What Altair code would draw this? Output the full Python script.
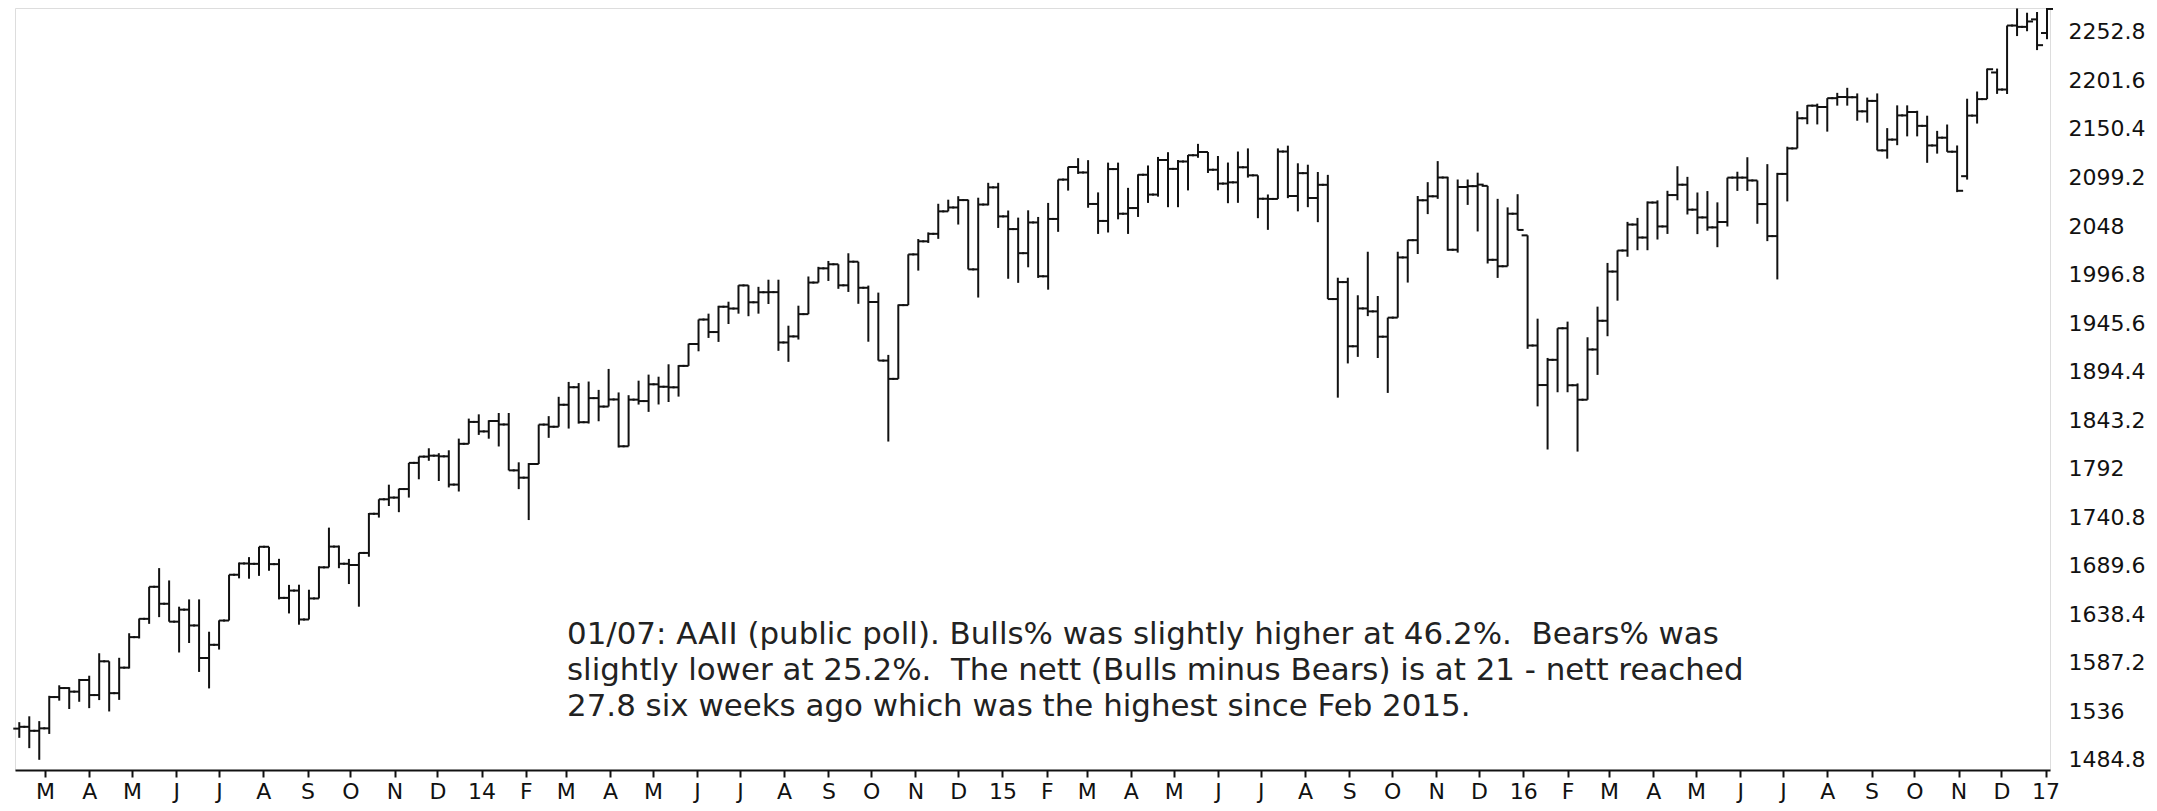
import altair as alt
import pandas as pd

# ---- weekly S&P 500 style OHLC bars (week starting Monday) ----
first_week = "2013-02-11"
n_weeks = 204

opens = [
    1517.9, 1519.8, 1515.6, 1518.2, 1551.2, 1560.7, 1556.9, 1569.2, 1553.3, 1588.9,
    1555.3, 1582.2, 1614.4, 1633.7, 1667.5, 1649.6, 1630.7, 1643.4, 1626.7, 1592.4,
    1606.3, 1631.9, 1680.2, 1692.1, 1691.7, 1709.7, 1691.4, 1655.8, 1663.5, 1633.0,
    1655.2, 1688.0, 1709.9, 1691.8, 1690.5, 1703.2, 1744.5, 1759.8, 1761.6, 1770.6,
    1798.2, 1804.8, 1805.8, 1805.1, 1775.3, 1818.3, 1841.4, 1831.4, 1842.4, 1838.7,
    1790.3, 1782.6, 1797.0, 1838.6, 1836.3, 1859.5, 1878.0, 1841.1, 1866.5, 1857.6,
    1865.1, 1815.7, 1864.9, 1863.4, 1881.1, 1878.5, 1877.9, 1900.5, 1923.6, 1949.4,
    1936.2, 1962.9, 1961.0, 1985.4, 1967.6, 1978.2, 1978.3, 1925.2, 1931.6, 1955.1,
    1988.4, 2003.4, 2007.7, 1985.5, 2010.4, 1982.9, 1967.9, 1906.1, 1886.8, 1964.6,
    2018.1, 2031.9, 2039.8, 2063.5, 2067.6, 2075.4, 2002.3, 2070.7, 2088.8, 2058.2,
    2044.8, 2019.4, 2051.8, 1995.0, 2055.5, 2097.0, 2110.3, 2104.5, 2071.3, 2053.4,
    2108.1, 2061.0, 2067.0, 2102.1, 2081.2, 2117.7, 2108.3, 2116.1, 2122.7, 2126.1,
    2107.4, 2092.8, 2094.1, 2110.0, 2101.5, 2076.8, 2076.6, 2126.6, 2079.7, 2103.8,
    2077.6, 2091.5, 1971.0, 1988.9, 1921.2, 1961.1, 1958.0, 1931.3, 1951.4, 2014.9,
    2033.1, 2075.2, 2079.4, 2099.2, 2023.0, 2089.2, 2090.1, 2090.4, 2012.4, 2005.6,
    2061.0, 2038.2, 1922.0, 1880.3, 1906.9, 1940.2, 1880.1, 1864.8, 1917.8, 1948.1,
    2000.0, 2022.2, 2049.6, 2035.9, 2072.8, 2047.6, 2080.7, 2091.6, 2065.3, 2057.1,
    2046.6, 2052.3, 2099.1, 2099.1, 2096.1, 2071.2, 2037.4, 2103.0, 2129.9, 2161.7,
    2175.0, 2173.6, 2182.9, 2184.1, 2183.9, 2169.0, 2180.0, 2127.8, 2139.2, 2164.7,
    2168.3, 2153.7, 2133.0, 2141.2, 2126.4, 2100.6, 2164.5, 2181.9, 2210.0, 2192.0,
    2259.5, 2258.1, 2266.0, 2251.6,
]
highs = [
    1524.7, 1530.9, 1525.8, 1552.5, 1563.6, 1561.6, 1570.3, 1573.7, 1597.4, 1588.9,
    1592.6, 1618.5, 1634.0, 1667.5, 1687.2, 1674.2, 1646.5, 1654.2, 1654.2, 1620.1,
    1632.1, 1680.2, 1693.1, 1698.8, 1709.7, 1709.7, 1697.0, 1669.5, 1669.7, 1664.4,
    1689.1, 1729.9, 1711.0, 1696.9, 1703.4, 1745.3, 1759.8, 1775.2, 1771.0, 1798.2,
    1804.8, 1813.6, 1808.4, 1811.5, 1823.8, 1844.9, 1849.4, 1843.2, 1850.8, 1850.8,
    1798.8, 1798.0, 1838.6, 1847.5, 1867.9, 1883.6, 1882.4, 1884.0, 1875.2, 1897.3,
    1872.5, 1869.6, 1884.9, 1891.3, 1889.1, 1902.2, 1901.3, 1924.0, 1949.4, 1955.6,
    1963.9, 1968.2, 1985.6, 1985.6, 1983.9, 1991.4, 1991.4, 1942.9, 1964.0, 1994.8,
    2005.0, 2011.2, 2007.7, 2019.3, 2010.4, 1985.2, 1977.8, 1912.1, 1965.3, 2018.2,
    2034.3, 2041.3, 2071.5, 2075.8, 2079.5, 2075.8, 2077.9, 2093.6, 2093.6, 2064.4,
    2056.9, 2064.6, 2057.6, 2072.4, 2097.0, 2110.6, 2119.6, 2117.5, 2083.5, 2114.9,
    2114.9, 2088.3, 2102.6, 2111.9, 2120.9, 2125.9, 2117.7, 2123.0, 2134.7, 2126.1,
    2121.9, 2115.0, 2126.6, 2129.9, 2101.5, 2081.3, 2129.9, 2132.8, 2114.2, 2112.7,
    2105.0, 2102.0, 1993.5, 1993.5, 1975.0, 2020.9, 1974.2, 1951.4, 2020.9, 2033.5,
    2079.7, 2094.3, 2116.5, 2100.0, 2097.1, 2097.1, 2104.3, 2090.4, 2076.7, 2067.7,
    2081.6, 2038.2, 1950.3, 1908.9, 1940.2, 1947.2, 1882.0, 1930.7, 1963.0, 2009.1,
    2022.4, 2052.4, 2056.6, 2074.0, 2075.1, 2085.2, 2111.1, 2099.9, 2083.4, 2084.9,
    2073.0, 2099.1, 2105.3, 2120.6, 2096.1, 2113.3, 2104.1, 2131.7, 2169.1, 2175.6,
    2177.1, 2182.9, 2188.5, 2193.8, 2187.9, 2183.5, 2187.9, 2151.3, 2175.3, 2175.3,
    2169.6, 2164.4, 2148.4, 2155.1, 2133.0, 2182.3, 2189.9, 2214.1, 2214.1, 2259.5,
    2277.5, 2273.0, 2273.8, 2282.1,
]
lows = [
    1508.2, 1497.3, 1485.0, 1512.3, 1547.4, 1538.6, 1546.2, 1539.5, 1548.0, 1536.0,
    1548.2, 1581.3, 1613.0, 1628.4, 1635.5, 1630.7, 1598.2, 1608.2, 1577.7, 1560.3,
    1601.3, 1631.9, 1676.4, 1676.0, 1679.0, 1684.4, 1654.2, 1639.4, 1627.5, 1633.0,
    1655.2, 1688.0, 1687.1, 1670.4, 1646.5, 1699.2, 1740.5, 1752.7, 1746.2, 1761.6,
    1780.9, 1800.4, 1779.1, 1772.3, 1768.0, 1818.3, 1827.7, 1823.7, 1815.5, 1790.3,
    1770.5, 1737.9, 1797.0, 1824.6, 1836.3, 1834.4, 1839.6, 1839.7, 1842.1, 1857.6,
    1814.4, 1815.7, 1859.7, 1852.0, 1859.8, 1862.4, 1868.1, 1900.5, 1915.9, 1930.0,
    1925.8, 1944.7, 1955.6, 1952.9, 1955.6, 1965.8, 1916.4, 1904.8, 1928.3, 1955.1,
    1988.4, 1990.1, 1981.8, 1978.5, 1966.0, 1926.0, 1906.1, 1820.7, 1886.8, 1964.6,
    2001.0, 2030.2, 2034.5, 2063.5, 2049.6, 2002.3, 1972.6, 2069.8, 2046.0, 1992.4,
    1988.1, 2004.5, 1993.3, 1980.9, 2041.9, 2085.4, 2103.0, 2067.3, 2039.7, 2041.2,
    2055.1, 2039.7, 2057.6, 2072.4, 2079.0, 2067.9, 2067.9, 2085.6, 2120.0, 2104.0,
    2085.7, 2072.1, 2072.5, 2099.1, 2056.3, 2044.0, 2076.6, 2077.4, 2063.5, 2067.9,
    2052.1, 1970.9, 1867.0, 1903.1, 1910.0, 1953.0, 1908.8, 1872.0, 1951.4, 1988.4,
    2018.5, 2060.6, 2076.7, 2022.0, 2020.0, 2070.3, 2042.3, 2008.5, 1993.3, 2005.6,
    2043.6, 1918.5, 1857.8, 1812.3, 1872.7, 1872.7, 1810.1, 1864.8, 1891.0, 1931.8,
    1969.3, 2015.6, 2022.5, 2022.5, 2033.8, 2039.7, 2075.2, 2060.2, 2039.5, 2043.1,
    2025.7, 2047.5, 2085.1, 2085.1, 2050.4, 2032.1, 1991.7, 2074.0, 2129.9, 2155.4,
    2155.2, 2147.6, 2175.0, 2175.0, 2159.1, 2157.1, 2127.8, 2119.1, 2133.3, 2142.6,
    2142.6, 2114.7, 2124.4, 2126.3, 2083.8, 2097.0, 2156.1, 2181.9, 2187.4, 2187.3,
    2248.4, 2253.5, 2233.6, 2245.1,
]
closes = [
    1519.8, 1515.6, 1518.2, 1551.2, 1560.7, 1556.9, 1569.2, 1553.3, 1588.9, 1555.3,
    1582.2, 1614.4, 1633.7, 1667.5, 1649.6, 1630.7, 1643.4, 1626.7, 1592.4, 1606.3,
    1631.9, 1680.2, 1692.1, 1691.7, 1709.7, 1691.4, 1655.8, 1663.5, 1633.0, 1655.2,
    1688.0, 1709.9, 1691.8, 1690.5, 1703.2, 1744.5, 1759.8, 1761.6, 1770.6, 1798.2,
    1804.8, 1805.8, 1805.1, 1775.3, 1818.3, 1841.4, 1831.4, 1842.4, 1838.7, 1790.3,
    1782.6, 1797.0, 1838.6, 1836.3, 1859.5, 1878.0, 1841.1, 1866.5, 1857.6, 1865.1,
    1815.7, 1864.9, 1863.4, 1881.1, 1878.5, 1877.9, 1900.5, 1923.6, 1949.4, 1936.2,
    1962.9, 1961.0, 1985.4, 1967.6, 1978.2, 1978.3, 1925.2, 1931.6, 1955.1, 1988.4,
    2003.4, 2007.7, 1985.5, 2010.4, 1982.9, 1967.9, 1906.1, 1886.8, 1964.6, 2018.1,
    2031.9, 2039.8, 2063.5, 2067.6, 2075.4, 2002.3, 2070.7, 2088.8, 2058.2, 2044.8,
    2019.4, 2051.8, 1995.0, 2055.5, 2097.0, 2110.3, 2104.5, 2071.3, 2053.4, 2108.1,
    2061.0, 2067.0, 2102.1, 2081.2, 2117.7, 2108.3, 2116.1, 2122.7, 2126.1, 2107.4,
    2092.8, 2094.1, 2110.0, 2101.5, 2076.8, 2076.6, 2126.6, 2079.7, 2103.8, 2077.6,
    2091.5, 1971.0, 1988.9, 1921.2, 1961.1, 1958.0, 1931.3, 1951.4, 2014.9, 2033.1,
    2075.2, 2079.4, 2099.2, 2023.0, 2089.2, 2090.1, 2091.7, 2012.4, 2005.6, 2061.0,
    2043.9, 1922.0, 1880.3, 1906.9, 1940.2, 1880.1, 1864.8, 1917.8, 1948.1, 2000.0,
    2022.2, 2049.6, 2035.9, 2072.8, 2047.6, 2080.7, 2091.6, 2065.3, 2057.1, 2046.6,
    2052.3, 2099.1, 2099.1, 2096.1, 2071.2, 2037.4, 2103.0, 2129.9, 2161.7, 2175.0,
    2173.6, 2182.9, 2184.1, 2183.9, 2169.0, 2180.0, 2127.8, 2139.2, 2164.7, 2168.3,
    2153.7, 2133.0, 2141.2, 2126.4, 2085.2, 2164.5, 2181.9, 2213.4, 2192.0, 2259.5,
    2258.1, 2263.8, 2238.8, 2277.0,
]

y_tick_labels = [1484.8, 1536, 1587.2, 1638.4, 1689.6, 1740.8, 1792, 1843.2,
                 1894.4, 1945.6, 1996.8, 2048, 2099.2, 2150.4, 2201.6, 2252.8]

note_lines = [
    "01/07: AAII (public poll). Bulls% was slightly higher at 46.2%.  Bears% was",
    "slightly lower at 25.2%.  The nett (Bulls minus Bears) is at 21 - nett reached",
    "27.8 six weeks ago which was the highest since Feb 2015.",
]

weeks = pd.date_range(first_week, periods=n_weeks, freq="7D")
df = pd.DataFrame({
    "date": weeks.strftime("%Y-%m-%d"),
    "open": opens, "high": highs, "low": lows, "close": closes,
})

def ms(s):
    return int(pd.Timestamp(s, tz="UTC").value // 10**6)

month_ticks = [ms(d) for d in pd.date_range("2013-03-01", "2017-01-01", freq="MS")]

FONT = "DejaVu Sans"
INK = "#111111"

x_enc = alt.X(
    "date:T",
    scale=alt.Scale(type="utc", domain=[ms("2013-02-08"), ms("2017-01-04 02:00")]),
    axis=alt.Axis(
        values=month_ticks,
        labelExpr="utcmonth(datum.value) == 0 ? utcFormat(datum.value, '%y') : substring(utcFormat(datum.value, '%b'), 0, 1)",
        title=None, grid=False, domain=True, domainColor=INK, domainWidth=2,
        ticks=True, tickColor=INK, tickWidth=2, tickSize=7,
        labelFont=FONT, labelFontSize=22, labelColor=INK, labelPadding=4,
        labelAlign="center", labelOverlap=False, labelFlush=False,
    ),
)
y_scale = alt.Scale(domain=[1474.25, 2278.0], nice=False, zero=False)
y_axis = alt.Axis(
    orient="right", values=y_tick_labels, format=".1~f", title=None, grid=False,
    domain=False, ticks=False, labelPadding=18, labelAlign="left",
    labelBaseline="middle", labelFont=FONT, labelFontSize=22, labelColor=INK,
    labelOverlap=False, labelFlush=False,
)

base = alt.Chart(df).encode(x=x_enc)
hl = base.mark_rule(strokeWidth=2, color=INK).encode(
    y=alt.Y("low:Q", scale=y_scale, axis=y_axis), y2="high:Q")
op = base.mark_tick(orient="horizontal", size=6, thickness=2, xOffset=-3,
                    color=INK, opacity=1).encode(y=alt.Y("open:Q", scale=y_scale))
cl = base.mark_tick(orient="horizontal", size=6, thickness=2, xOffset=3,
                    color=INK, opacity=1).encode(y=alt.Y("close:Q", scale=y_scale))

note_layers = []
for line, yy in zip(note_lines, [627, 663, 699]):
    shown = line.replace("  ", " \u00a0")
    note_layers.append(
        alt.Chart(pd.DataFrame({"t": [shown]})).mark_text(
            align="left", baseline="middle", font=FONT, fontSize=30.9, color="#222222"
        ).encode(x=alt.value(552), y=alt.value(yy), text="t:N")
    )

chart = alt.layer(hl, op, cl, *note_layers).properties(
    width=2035, height=762,
    padding={"left": 7, "top": 0, "right": 99, "bottom": 33},
    autosize=alt.AutoSizeParams(type="none"),
).configure_view(stroke=None).configure(background="white")

chart.save("out.html", embed_options={"renderer": "svg", "actions": False})
